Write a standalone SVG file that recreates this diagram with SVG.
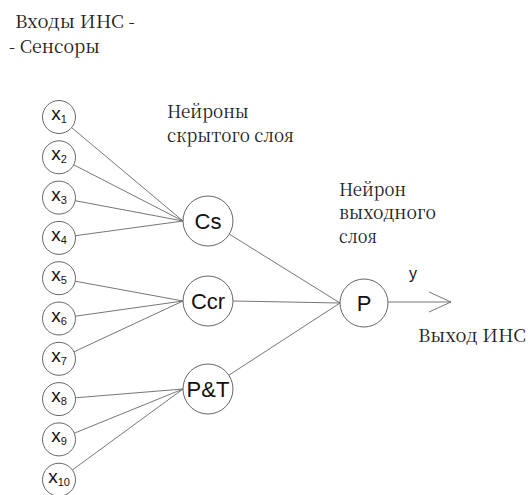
<svg xmlns="http://www.w3.org/2000/svg" width="528" height="495" viewBox="0 0 528 495">
<style>
.node circle{fill:#fff;stroke:#666;stroke-width:1}
.lbl{font-family:"Liberation Sans",Arial,sans-serif;fill:#111;text-anchor:middle}
.in{font-size:19px}
.hid{font-size:22px}
.cap{font-family:"Noto Serif CJK SC","Noto Serif CJK JP",serif;font-size:18px;fill:#222}
#connectors line,#connectors polyline{stroke:#666;stroke-width:0.9;fill:none}
</style>
<rect width="528" height="495" fill="#fff"/>
<text class="cap" x="15" y="28" textLength="120" lengthAdjust="spacingAndGlyphs">Входы ИНС -</text>
<text class="cap" x="9" y="53" textLength="91" lengthAdjust="spacingAndGlyphs">- Сенсоры</text>
<text class="cap" x="167" y="118" textLength="82" lengthAdjust="spacingAndGlyphs">Нейроны</text>
<text class="cap" x="167" y="142" textLength="127" lengthAdjust="spacingAndGlyphs">скрытого слоя</text>
<text class="cap" x="339" y="196" textLength="67" lengthAdjust="spacingAndGlyphs">Нейрон</text>
<text class="cap" x="339" y="219" textLength="97" lengthAdjust="spacingAndGlyphs">выходного</text>
<text class="cap" x="339" y="243" textLength="38" lengthAdjust="spacingAndGlyphs">слоя</text>
<text class="cap" x="418" y="342" textLength="108" lengthAdjust="spacingAndGlyphs">Выход ИНС</text>
<text class="lbl" x="413" y="279" style="font-size:16px">y</text>
<g id="connectors">
<line x1="71.6" y1="127.6" x2="183" y2="221"/>
<line x1="73.7" y1="164.8" x2="183" y2="221"/>
<line x1="75.2" y1="200.7" x2="183" y2="221"/>
<line x1="75.4" y1="235.7" x2="183" y2="221"/>
<line x1="75.2" y1="281.2" x2="183" y2="301"/>
<line x1="75.3" y1="316.2" x2="183" y2="301"/>
<line x1="74.0" y1="351.8" x2="183" y2="301"/>
<line x1="75.4" y1="397.8" x2="183" y2="389"/>
<line x1="74.3" y1="433.2" x2="183" y2="389"/>
<line x1="72.3" y1="470.0" x2="183" y2="389"/>
<line x1="229.3" y1="234.1" x2="340" y2="303"/>
<line x1="233" y1="301" x2="340" y2="303"/>
<line x1="228.9" y1="375.2" x2="340" y2="303"/>
<line x1="388" y1="302" x2="451" y2="302"/>
<polyline points="429,292 451,302 429,312"/>
</g>
<g id="x1" class="node"><circle cx="59" cy="117" r="16.5"/><text class="lbl in" x="59" y="120">x<tspan font-size="11" dy="3">1</tspan></text></g>
<g id="x2" class="node"><circle cx="59" cy="157.3" r="16.5"/><text class="lbl in" x="59" y="160.3">x<tspan font-size="11" dy="3">2</tspan></text></g>
<g id="x3" class="node"><circle cx="59" cy="197.6" r="16.5"/><text class="lbl in" x="59" y="200.6">x<tspan font-size="11" dy="3">3</tspan></text></g>
<g id="x4" class="node"><circle cx="59" cy="237.9" r="16.5"/><text class="lbl in" x="59" y="240.9">x<tspan font-size="11" dy="3">4</tspan></text></g>
<g id="x5" class="node"><circle cx="59" cy="278.2" r="16.5"/><text class="lbl in" x="59" y="281.2">x<tspan font-size="11" dy="3">5</tspan></text></g>
<g id="x6" class="node"><circle cx="59" cy="318.5" r="16.5"/><text class="lbl in" x="59" y="321.5">x<tspan font-size="11" dy="3">6</tspan></text></g>
<g id="x7" class="node"><circle cx="59" cy="358.8" r="16.5"/><text class="lbl in" x="59" y="361.8">x<tspan font-size="11" dy="3">7</tspan></text></g>
<g id="x8" class="node"><circle cx="59" cy="399.1" r="16.5"/><text class="lbl in" x="59" y="402.1">x<tspan font-size="11" dy="3">8</tspan></text></g>
<g id="x9" class="node"><circle cx="59" cy="439.4" r="16.5"/><text class="lbl in" x="59" y="442.4">x<tspan font-size="11" dy="3">9</tspan></text></g>
<g id="x10" class="node"><circle cx="59" cy="479.7" r="16.5"/><text class="lbl in" x="59" y="482.7">x<tspan font-size="11" dy="3">10</tspan></text></g>
<g id="Cs" class="node"><circle cx="208" cy="221" r="25"/><text class="lbl hid" x="208" y="229">Cs</text></g>
<g id="Ccr" class="node"><circle cx="208" cy="301" r="25"/><text class="lbl hid" x="208" y="309">Ccr</text></g>
<g id="PT" class="node"><circle cx="208" cy="389" r="25"/><text class="lbl hid" x="208" y="397">P&amp;T</text></g>
<g id="P" class="node"><circle cx="364" cy="303" r="24"/><text class="lbl hid" x="364" y="311">P</text></g>
</svg>
